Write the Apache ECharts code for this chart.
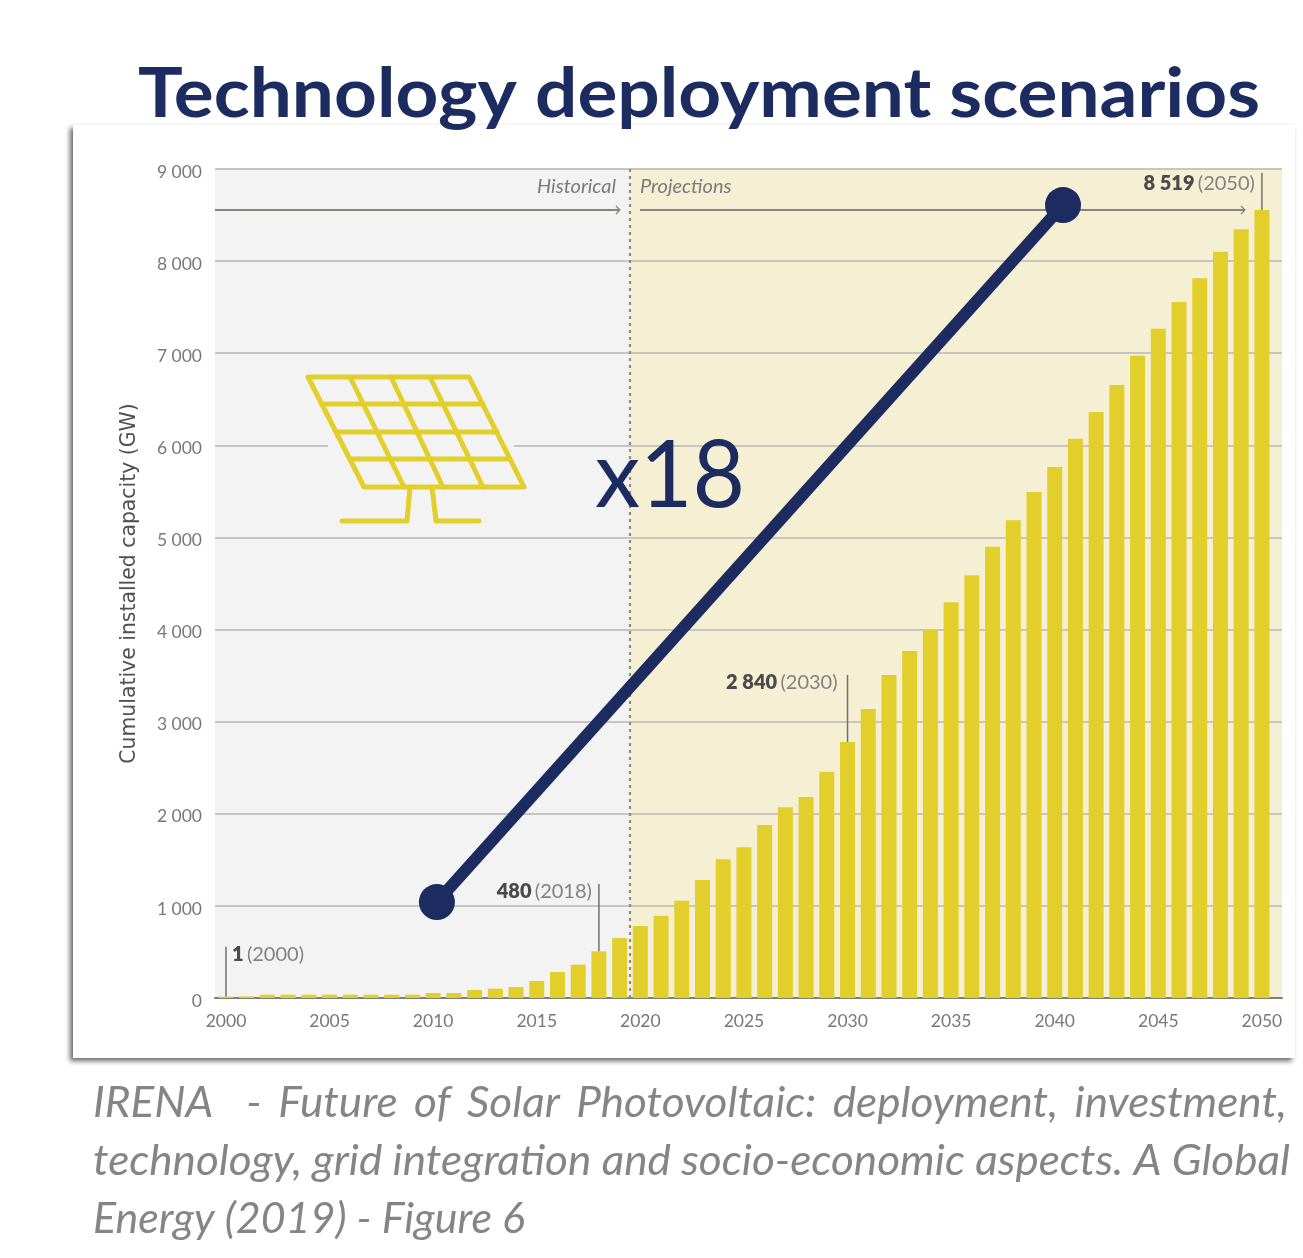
<!DOCTYPE html>
<html><head><meta charset="utf-8">
<style>html,body{margin:0;padding:0;background:#fff}#c{width:1303px;height:1258px}</style>
<script src="https://cdn.jsdelivr.net/npm/echarts@6/dist/echarts.min.js"></script>
</head><body><div id="c"></div>
<script>
const titleText = 'Technology deployment scenarios';
const axisTitle = 'Cumulative installed capacity (GW)';
const multiplierText = 'x18';
const captionLine1 = 'IRENA  - Future of Solar Photovoltaic: deployment, investment,';
const captionLine2 = 'technology, grid integration and socio-economic aspects. A Global';
const captionLine3 = 'Energy (2019) - Figure 6';
const years = [2000,2001,2002,2003,2004,2005,2006,2007,2008,2009,2010,2011,2012,2013,2014,2015,2016,2017,2018,2019,2020,2021,2022,2023,2024,2025,2026,2027,2028,2029,2030,2031,2032,2033,2034,2035,2036,2037,2038,2039,2040,2041,2042,2043,2044,2045,2046,2047,2048,2049,2050];
const capacity = [15,18,36,36,36,36,36,36,36,36,54,54,87,101,119,185,282,362,507,651,782,894,1057,1281,1505,1636,1878,2070,2182,2457,2779,3138,3507,3767,3995,4296,4589,4900,5186,5493,5765,6072,6362,6655,6973,7266,7556,7813,8102,8345,8555];
const yTickLabels = ['0','1 000','2 000','3 000','4 000','5 000','6 000','7 000','8 000','9 000'];
const xTickYears = [2000,2005,2010,2015,2020,2025,2030,2035,2040,2045,2050];
const connector = [[2010.18,1042],[2040.4,8609]];
const callouts = [
  {year:2000, top:556,  bold:'1',     yearText:'(2000)', side:'right'},
  {year:2018, top:1238, bold:'480',   yearText:'(2018)', side:'left'},
  {year:2030, top:3507, bold:'2 840', yearText:'(2030)', side:'left'},
  {year:2050, top:8957, bold:'8 519', yearText:'(2050)', side:'left'}
];
const xMin = 1999.47, xMax = 2050.97, splitYear = 2019.5, arrowValue = 8555, periodLabelValue = 8805;
const periods = [
  {from:xMin, to:splitYear, fill:'#f3f3f3'},
  {from:splitYear, to:xMax, fill:'#f5efd3'}
];

const NAVY = '#1c2b60', YEL = '#e3cf2b';
const mc = document.createElement('canvas').getContext('2d');
function widthOf(t, font){ mc.font = font; return mc.measureText(t).width; }
function fit(t, font, x, y, w, color, z){
  return {type:'text', x, y, z, silent:true, scaleX: w/widthOf(t,font),
    style:{text:t, font, fill:color, align:'left', verticalAlign:'middle'}};
}
function justified(line, font, x, y, wordScale, totalW, color){
  const words = line.replace('  ',' ').split(' ');
  const ws = words.map(w => widthOf(w,font)*wordScale);
  const extra = line.indexOf('  ')>=0 ? 1.0 : 0;
  const gap = (totalW - ws.reduce((a,b)=>a+b,0)) / (words.length-1+extra);
  let cx = x; const out=[];
  words.forEach((w,i)=>{
    out.push({type:'text', x:cx, y, z:20, silent:true, scaleX:wordScale, style:{text:w,font,fill:color,align:'left',verticalAlign:'middle'}});
    cx += ws[i]+gap*(i===0&&extra?2:1);
  });
  return out;
}
const capFont = 'italic 400 42px Lato';
const capScale = 1197/widthOf(captionLine2,capFont);

const PW = 5;
const seg = (a,b)=>({type:'line',z:5,silent:true,shape:{x1:a[0],y1:a[1],x2:b[0],y2:b[1]},style:{stroke:YEL,lineWidth:PW,lineCap:'round'}});
const pline = pts=>({type:'polyline',z:5,silent:true,shape:{points:pts},style:{fill:'none',stroke:YEL,lineWidth:PW,lineJoin:'round',lineCap:'round'}});
const panelParts = [
  {type:'polygon',z:5,silent:true,shape:{points:[[308,377],[469,377],[524,487],[364,487]]},style:{fill:'none',stroke:YEL,lineWidth:PW,lineJoin:'round'}},
  seg([350,377],[404,487]),seg([391,377],[443,487]),seg([430,377],[483,487]),
  seg([322,404],[483,404]),seg([336,432],[497,432]),seg([350,459],[510,459]),
  pline([[410,487],[407,521],[342,521]]),
  pline([[432,487],[436,521],[479,521]])
];

const chart = echarts.init(document.getElementById('c'));
chart.setOption({
  animation:false,
  backgroundColor:'#fff',
  grid:{left:215,top:169,width:1067,height:829,containLabel:false},
  xAxis:{type:'value',min:xMin,max:xMax,
    axisLine:{show:true,onZero:false,lineStyle:{color:'#7f7f76',width:2}},
    axisTick:{show:false},splitLine:{show:false},
    axisLabel:{customValues:xTickYears,margin:14,color:'#787878',fontFamily:'Lato',fontSize:17.5,formatter:v=>String(Math.round(v))}
  },
  yAxis:{type:'value',min:0,max:9000,interval:1000,
    name:axisTitle,nameLocation:'middle',nameGap:75,nameRotate:90,
    nameTextStyle:{color:'#505050',fontFamily:'DejaVu Sans',fontSize:20.4},
    axisLine:{show:false},axisTick:{show:false},
    splitLine:{show:true,lineStyle:{color:'#c6c5bf',width:2}},
    axisLabel:{margin:13,color:'#787878',fontFamily:'Lato',fontSize:17.5,verticalAlign:'top',lineHeight:6,formatter:v=>yTickLabels[Math.round(v/1000)]}
  },
  graphic:{elements:[
    {type:'rect',z:-10,silent:true,shape:{x:73,y:125,width:1222,height:933},style:{fill:'#fff',shadowColor:'rgba(0,0,0,0.6)',shadowBlur:5,shadowOffsetX:-3,shadowOffsetY:3}},
    {type:'rect',z:1,silent:true,shape:{x:328,y:442,width:186,height:6},style:{fill:'#f3f3f3'}},
    ...panelParts,
    fit(titleText,'700 68px Lato',138,95,1122,NAVY,20),
    fit(multiplierText,'400 94px Lato',595,477,150,NAVY,20),
    ...justified(captionLine1,capFont,93,1103,capScale,1194,'#858585'),
    fit(captionLine2,capFont,93,1161,1197,'#858585',20),
    fit(captionLine3,capFont,93,1219,432,'#858585',20)
  ]},
  series:[
    {type:'custom',z:-1,silent:true,coordinateSystem:'cartesian2d',data:periods.map(p=>[p.from,p.to]),
      encode:{x:[0,1]},
      renderItem:(params,api)=>{
        const a=api.coord([api.value(0),9000]),b=api.coord([api.value(1),0]);
        return {type:'rect',shape:{x:a[0],y:a[1],width:b[0]-a[0],height:b[1]-a[1]},style:{fill:periods[params.dataIndex].fill}};
      }},
    {type:'bar',z:3,silent:true,barWidth:15,itemStyle:{color:YEL},data:years.map((y,i)=>[y,capacity[i]])},
    {type:'custom',z:2,silent:true,coordinateSystem:'cartesian2d',data:[[splitYear,0]],encode:{x:0,y:1},
      renderItem:(params,api)=>{
        const bottom=api.coord([splitYear,0]),top=api.coord([splitYear,9000]);
        const ay=api.coord([xMin,arrowValue])[1],ly=api.coord([xMin,periodLabelValue])[1];
        const x0=api.coord([xMin,0])[0],x1=api.coord([xMax,0])[0],sx=bottom[0];
        const gs={stroke:'#85857e',lineWidth:1.8,fill:'none'};
        const arrow=(a,b)=>[
          {type:'line',shape:{x1:a,y1:ay,x2:b,y2:ay},style:gs},
          {type:'polyline',shape:{points:[[b-4,ay-4],[b,ay],[b-4,ay+4]]},style:{stroke:'#85857e',lineWidth:1.2,fill:'none'}}];
        return {type:'group',children:[
          {type:'line',shape:{x1:sx,y1:top[1],x2:sx,y2:bottom[1]},style:{stroke:'#8b8b8b',lineWidth:2.2,lineDash:[3,4]}},
          ...arrow(x0,sx-10),...arrow(sx+10,x1-37),
          {type:'text',style:{x:sx-14,y:ly,text:'Historical',align:'right',verticalAlign:'middle',fill:'#7a7a7a',font:'italic 400 20px Lato'}},
          {type:'text',style:{x:sx+10,y:ly,text:'Projections',align:'left',verticalAlign:'middle',fill:'#7a7a7a',font:'italic 400 20px Lato'}}
        ]};
      }},
    {type:'custom',z:4,silent:true,coordinateSystem:'cartesian2d',data:callouts.map((c,i)=>[c.year,c.top,i]),encode:{x:0,y:1},
      renderItem:(params,api)=>{
        const c=callouts[api.value(2)];
        const top=api.coord([c.year,c.top]);
        const base=api.coord([c.year,capacity[years.indexOf(c.year)]]);
        const right=c.side==='right';
        return {type:'group',children:[
          {type:'line',shape:{x1:top[0],y1:top[1],x2:base[0],y2:base[1]},style:{stroke:'#707070',lineWidth:1.5}},
          {type:'text',style:{x:top[0]+(right?6:(c.year===2030?-10:-7)),y:top[1]+(c.year===2050?11:8),align:right?'left':'right',verticalAlign:'middle',
            text:'{b|'+c.bold+'} {y|'+c.yearText+'}',
            rich:{b:{font:'800 20px Lato',fill:'#4a4a4a'},y:{font:'400 20px Lato',fill:'#828282'}}}}
        ]};
      }},
    {type:'line',z:10,silent:true,data:connector,symbol:'circle',symbolSize:36,showSymbol:true,
      lineStyle:{color:NAVY,width:12},itemStyle:{color:NAVY,opacity:1}}
  ]
});
</script></body></html>
